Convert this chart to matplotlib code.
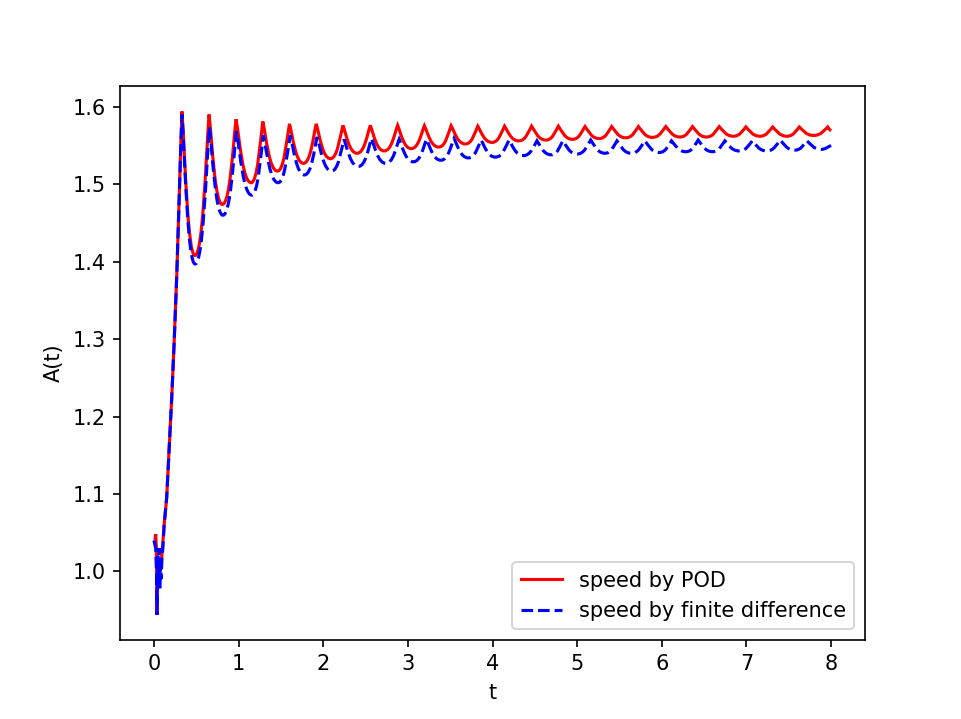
import matplotlib
matplotlib.use("Agg")
import matplotlib.pyplot as plt
from matplotlib.path import Path
from matplotlib.patches import PathPatch

# start-up transient (before the first peak)
pod_start_t = [0.0, 0.012, 0.02, 0.028, 0.036, 0.044, 0.055, 0.07, 0.085, 0.10,
               0.12, 0.15, 0.18, 0.21, 0.24, 0.27, 0.30, 0.318]
pod_start_a = [1.040, 1.040, 1.048, 1.030, 0.944, 1.000, 0.990, 1.000, 1.010, 1.030,
               1.060, 1.095, 1.160, 1.225, 1.300, 1.385, 1.490, 1.555]

fd_start_t = [0.0, 0.01, 0.02, 0.03, 0.036, 0.045, 0.052, 0.06, 0.068, 0.076,
              0.085, 0.095, 0.105, 0.12, 0.15, 0.18, 0.21, 0.24, 0.27, 0.30, 0.318]
fd_start_a = [1.040, 1.035, 1.030, 1.000, 0.944, 1.020, 0.980, 1.030, 0.975, 1.010,
              0.990, 1.020, 1.030, 1.060, 1.095, 1.160, 1.225, 1.300, 1.385, 1.490, 1.552]

# oscillation extrema, speed by POD
pod_peak_t = [0.331, 0.651, 0.970, 1.286, 1.601, 1.917, 2.233, 2.556, 2.879, 3.195,
              3.511, 3.826, 4.142, 4.462, 4.778, 5.093, 5.408, 5.724, 6.047, 6.363,
              6.678, 6.994, 7.310, 7.625, 7.961]
pod_peak_a = [1.594, 1.590, 1.584, 1.581, 1.578, 1.578, 1.576, 1.576, 1.576, 1.5755,
              1.5755, 1.575, 1.575, 1.575, 1.575, 1.5745, 1.5745, 1.5745, 1.5745, 1.5745,
              1.5745, 1.574, 1.574, 1.574, 1.574]
pod_trough_t = [0.484, 0.808, 1.148, 1.459, 1.767, 2.085, 2.400, 2.720, 3.040, 3.365,
                3.680, 3.995, 4.310, 4.630, 4.945, 5.260, 5.575, 5.890, 6.215, 6.530,
                6.845, 7.160, 7.480, 7.795]
pod_trough_a = [1.408, 1.474, 1.502, 1.517, 1.527, 1.533, 1.540, 1.543, 1.546, 1.548,
                1.552, 1.554, 1.556, 1.557, 1.558, 1.559, 1.560, 1.5605, 1.561, 1.561,
                1.562, 1.562, 1.562, 1.563]
pod_end = (8.0, 1.569)

# oscillation extrema, speed by finite difference
fd_peak_t = [0.331, 0.655, 0.975, 1.292, 1.610, 1.928, 2.245, 2.570, 2.897, 3.220,
             3.545, 3.865, 4.195, 4.525, 4.830, 5.160, 5.470, 5.800, 6.115, 6.430,
             6.745, 7.070, 7.400, 7.715]
fd_peak_a = [1.590, 1.574, 1.568, 1.563, 1.563, 1.561, 1.558, 1.559, 1.558, 1.558,
             1.559, 1.557, 1.557, 1.556, 1.556, 1.557, 1.556, 1.556, 1.556, 1.557,
             1.556, 1.556, 1.557, 1.556]
fd_trough_t = [0.486, 0.815, 1.155, 1.467, 1.778, 2.098, 2.415, 2.740, 3.065, 3.390,
               3.715, 4.035, 4.365, 4.695, 5.000, 5.330, 5.640, 5.970, 6.285, 6.600,
               6.915, 7.240, 7.570, 7.885]
fd_trough_a = [1.397, 1.460, 1.486, 1.502, 1.512, 1.517, 1.523, 1.527, 1.529, 1.531,
               1.534, 1.535, 1.537, 1.538, 1.539, 1.540, 1.540, 1.541, 1.542, 1.542,
               1.543, 1.543, 1.544, 1.545]
fd_end = (8.0, 1.550)


def wave_path(start_t, start_a, peak_t, peak_a, trough_t, trough_a, end):
    # pointed peaks, rounded troughs: cubic bezier between the extrema
    kp_t, kp_a, kt = 0.25, 0.35, 0.55
    verts = [(start_t[0], start_a[0])]
    codes = [Path.MOVETO]
    for t, a in zip(start_t[1:], start_a[1:]):
        verts.append((t, a))
        codes.append(Path.LINETO)
    verts.append((peak_t[0], peak_a[0]))
    codes.append(Path.LINETO)
    ext = []
    for i in range(len(peak_t)):
        ext.append(("p", peak_t[i], peak_a[i]))
        if i < len(trough_t):
            ext.append(("t", trough_t[i], trough_a[i]))
    for (k0, t0, a0), (_, t1, a1) in zip(ext[:-1], ext[1:]):
        dt, da = t1 - t0, a1 - a0
        if k0 == "p":
            c1 = (t0 + kp_t * dt, a0 + kp_a * da)
            c2 = (t1 - kt * dt, a1)
        else:
            c1 = (t0 + kt * dt, a0)
            c2 = (t1 - kp_t * dt, a1 - kp_a * da)
        verts += [c1, c2, (t1, a1)]
        codes += [Path.CURVE4] * 3
    k0, t0, a0 = ext[-1]
    t1, a1 = end
    dt, da = t1 - t0, a1 - a0
    if k0 == "p":
        c1 = (t0 + 0.3 * dt, a0 + 0.5 * da)
        c2 = (t1 - 0.3 * dt, a1 - 0.2 * da)
    else:
        c1 = (t0 + 0.4 * dt, a0)
        c2 = (t1 - 0.3 * dt, a1 - 0.3 * da)
    verts += [c1, c2, (t1, a1)]
    codes += [Path.CURVE4] * 3
    return Path(verts, codes)


fig, ax = plt.subplots(figsize=(9.61 / 1.5, 7.19 / 1.5), dpi=150)

ax.plot([], [], 'r-', lw=1.5, label='speed by POD')
ax.plot([], [], 'b--', lw=1.5, label='speed by finite difference')

ax.add_patch(PathPatch(wave_path(pod_start_t, pod_start_a, pod_peak_t, pod_peak_a,
                                 pod_trough_t, pod_trough_a, pod_end),
                       fill=False, edgecolor='r', lw=1.5, zorder=2))
ax.add_patch(PathPatch(wave_path(fd_start_t, fd_start_a, fd_peak_t, fd_peak_a,
                                 fd_trough_t, fd_trough_a, fd_end),
                       fill=False, edgecolor='b', lw=1.5, ls='--', zorder=2))
ax.autoscale_view()

ax.set_xlabel('t')
ax.set_ylabel('A(t)')
ax.legend(loc='lower right')

fig.savefig('out.png', dpi=150)
